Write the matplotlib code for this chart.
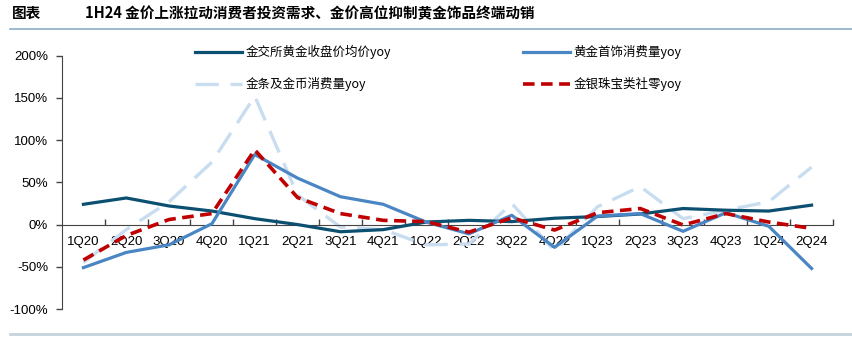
import matplotlib.pyplot as plt
from matplotlib.lines import Line2D
from matplotlib.ticker import FixedLocator, FuncFormatter

plt.rcParams['font.family'] = ['Liberation Sans', 'Noto Sans CJK SC', 'DejaVu Sans']

quarters = ['1Q20', '2Q20', '3Q20', '4Q20', '1Q21', '2Q21', '3Q21', '4Q21', '1Q22',
            '2Q22', '3Q22', '4Q22', '1Q23', '2Q23', '3Q23', '4Q23', '1Q24', '2Q24']

# yoy, %
sge_price = [24, 31.5, 22, 16, 7, 0, -8.5, -6, 3, 5, 3.5, 7.5, 9.5, 12.5, 19, 17, 16, 23]
jewelry = [-51, -33, -24, 1, 83, 55, 33, 24, 3, -11, 11, -27, 10, 13, -8, 14, -2, -52]
bars_coins = [-45, -6, 27, 74, 152, 35, -3, -6, -24, -23, 25, -31, 21, 45, 7, 17, 27, 68]
retail = [-42, -13, 6, 13, 88.5, 32, 13, 5, 3.5, -9, 8, -6.5, 14, 19, -0.5, 13, 3, -4.5]

fig = plt.figure(figsize=(8.52, 3.37), dpi=100)
ax = fig.add_axes([62 / 852, 1 - 309 / 337, (833 - 62) / 852, (309 - 55.7) / 337])

x = list(range(len(quarters)))
l_coin, = ax.plot(x, bars_coins, color='#c9ddf0', lw=2.4, dashes=(7, 3.5), zorder=2,
                  label='金条及金币消费量yoy')
l_sge, = ax.plot(x, sge_price, color='#0b4f71', lw=2.3, zorder=3,
                 label='金交所黄金收盘价均价yoy')
l_jew, = ax.plot(x, jewelry, color='#4a86c4', lw=2.3, zorder=4,
                 label='黄金首饰消费量yoy')
l_ret, = ax.plot(x, retail, color='#c00000', lw=2.6, dashes=(3.2, 1.8), zorder=5,
                 label='金银珠宝类社零yoy')

ax.set_xlim(-0.5, len(quarters) - 0.5)
ax.set_ylim(-100, 200)
ax.set_yticks(range(-100, 201, 50))
ax.yaxis.set_major_formatter(FuncFormatter(lambda v, p: f'{v:.0f}%'))
ax.tick_params(axis='y', direction='out', length=4, width=1, color='#444444',
               labelsize=9.5, pad=6)

# category boundaries carry the tick marks, labels sit at the centres
ax.xaxis.set_major_locator(FixedLocator([i + 0.5 for i in x]))
ax.xaxis.set_minor_locator(FixedLocator(x))
ax.set_xticklabels([], minor=False)
ax.set_xticklabels(quarters, minor=True)
ax.tick_params(axis='x', which='major', direction='in', length=4, width=1, color='#444444')
ax.tick_params(axis='x', which='minor', length=0, labelsize=9.5, pad=8)

ax.spines['bottom'].set_position(('data', 0))
ax.spines['bottom'].set_color('#444444')
ax.spines['left'].set_color('#444444')
ax.spines['top'].set_visible(False)
ax.spines['right'].set_visible(False)

leg = ax.legend(handles=[l_sge, l_coin, l_jew, l_ret], ncol=2, loc='upper left',
                bbox_to_anchor=(122 / 771, 1.087), frameon=False,
                handlelength=3.7, handletextpad=0.3, columnspacing=10.6,
                labelspacing=1.45, prop={'family': ['Noto Sans CJK SC', 'DejaVu Sans'], 'size': 9})
leg.set_zorder(6)

fig.text(12 / 852, 1 - 13 / 337, '图表', fontsize=10.5, fontweight='bold', style='italic',
         va='center', family=['Noto Sans CJK SC'])
fig.text(85 / 852, 1 - 13 / 337, '1H24 金价上涨拉动消费者投资需求、金价高位抑制黄金饰品终端动销',
         fontsize=10.5, fontweight='bold', style='italic', va='center',
         family=['Noto Sans CJK SC'])

fig.add_artist(Line2D([10 / 852, 1], [1 - 28.5 / 337] * 2, color='#8eaec6', lw=1.2))
fig.add_artist(Line2D([10 / 852, 1], [1 - 333.5 / 337] * 2, color='#c5d3dc', lw=2))

fig.savefig('out.png', dpi=100)
